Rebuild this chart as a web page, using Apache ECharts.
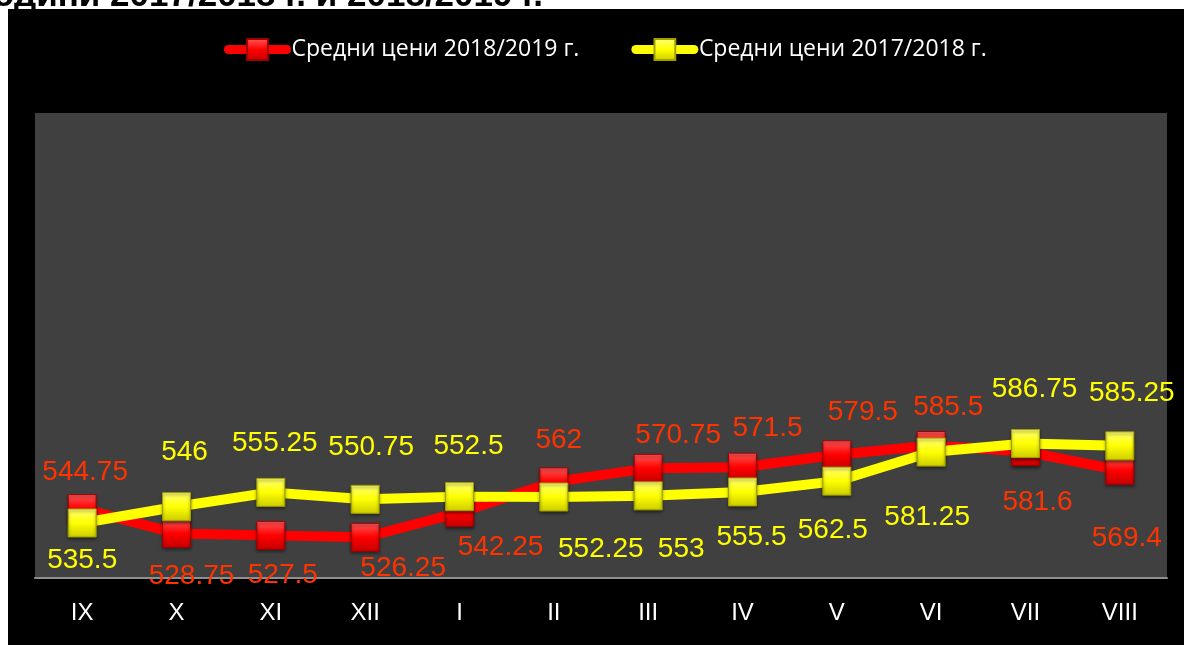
<!DOCTYPE html>
<html>
<head>
<meta charset="utf-8">
<script src="https://cdn.jsdelivr.net/npm/echarts@6/dist/echarts.min.js"></script>
<style>
html,body{margin:0;padding:0;background:#fff;}
#chart{width:1184px;height:645px;}
</style>
</head>
<body>
<div id="chart"></div>
<script>
// ---- data ----
const categories = ['IX','X','XI','XII','I','II','III','IV','V','VI','VII','VIII'];
const prices2018_2019 = [544.75, 528.75, 527.5, 526.25, 542.25, 562, 570.75, 571.5, 579.5, 585.5, 581.6, 569.4];
const prices2017_2018 = [535.5, 546, 555.25, 550.75, 552.5, 552.25, 553, 555.5, 562.5, 581.25, 586.75, 585.25];
const seriesNames = ['Средни цени 2018/2019 г.', 'Средни цени 2017/2018 г.'];
const titleText = 'години 2017/2018 г. и 2018/2019 г.';

// ---- label placement (layout only) ----
const labelOffsetsRed = [[3,-36],[15,43],[12,40],[38,31],[41,35],[5,-42],[30,-33],[25,-39],[26,-42],[17,-38],[12,51],[7,68]];
const labelOffsetsYellow = [[0,37],[8,-54],[4,-49],[6,-52],[9,-50],[47,52],[33,53],[9,45],[-4,49],[-4,65],[9,-54],[12,-53]];

function grad(top, mid, bot) {
  return new echarts.graphic.LinearGradient(0, 0, 0, 1, [
    {offset: 0, color: top}, {offset: 0.5, color: mid}, {offset: 1, color: bot}
  ]);
}

const chart = echarts.init(document.getElementById('chart'), null, {renderer: 'canvas'});

function build(values, offsets) {
  return values.map((v, i) => ({value: v, label: {offset: offsets[i]}}));
}

const option = {
  backgroundColor: '#ffffff',
  animation: false,
  graphic: [
    {type: 'rect', z: -100, shape: {x: 8, y: 9, width: 1176, height: 636}, style: {fill: '#000000'}},
    {type: 'text', z: -50, x: 543, y: 14, style: {text: titleText, fill: '#000', fontSize: 35, fontWeight: 'bold', fontFamily: '"Liberation Sans", Arial, sans-serif', align: 'right', verticalAlign: 'bottom'}}
  ],
  grid: {left: 35, right: 17, top: 113, bottom: 67, show: true, backgroundColor: '#404040', borderWidth: 0},
  legend: {
    left: 219, top: 33,
    itemWidth: 58, itemHeight: 26, itemGap: 52,
    textStyle: {color: '#ffffff', fontFamily: '"Open Sans", sans-serif', fontSize: 23},
    lineStyle: {width: 9, cap: 'round'},
    data: seriesNames
  },
  xAxis: {
    type: 'category', data: categories, boundaryGap: true,
    axisLine: {show: true, lineStyle: {color: '#8f8f8f', width: 2}},
    axisTick: {show: false},
    axisLabel: {color: '#ffffff', fontSize: 24, fontFamily: '"Liberation Sans", Arial, sans-serif', margin: 23},
    splitLine: {show: false}
  },
  yAxis: {type: 'value', min: 500, max: 800, show: false, splitLine: {show: false}},
  series: [
    {
      name: seriesNames[0], type: 'line', data: build(prices2018_2019, labelOffsetsRed),
      symbol: 'rect', symbolSize: 28, showAllSymbol: true, z: 2,
      lineStyle: {color: '#ff0000', width: 10},
      itemStyle: {color: grad('#ff5a5a', '#ff0000', '#c40000'), borderColor: '#a00000', borderWidth: 1,
        shadowColor: 'rgba(0,0,0,0.5)', shadowBlur: 3, shadowOffsetY: 2},
      label: {show: true, position: 'inside', color: '#ff3300', fontSize: 28, fontFamily: '"Liberation Sans", Arial, sans-serif'},
      emphasis: {disabled: true}
    },
    {
      name: seriesNames[1], type: 'line', data: build(prices2017_2018, labelOffsetsYellow),
      symbol: 'rect', symbolSize: 28, showAllSymbol: true, z: 3,
      lineStyle: {color: '#ffff00', width: 10},
      itemStyle: {color: grad('#ffff7a', '#ffff00', '#cccc00'), borderColor: '#a0a000', borderWidth: 1,
        shadowColor: 'rgba(0,0,0,0.5)', shadowBlur: 3, shadowOffsetY: 2},
      label: {show: true, position: 'inside', color: '#ffff00', fontSize: 28, fontFamily: '"Liberation Sans", Arial, sans-serif'},
      emphasis: {disabled: true}
    }
  ]
};
chart.setOption(option);
</script>
</body>
</html>
